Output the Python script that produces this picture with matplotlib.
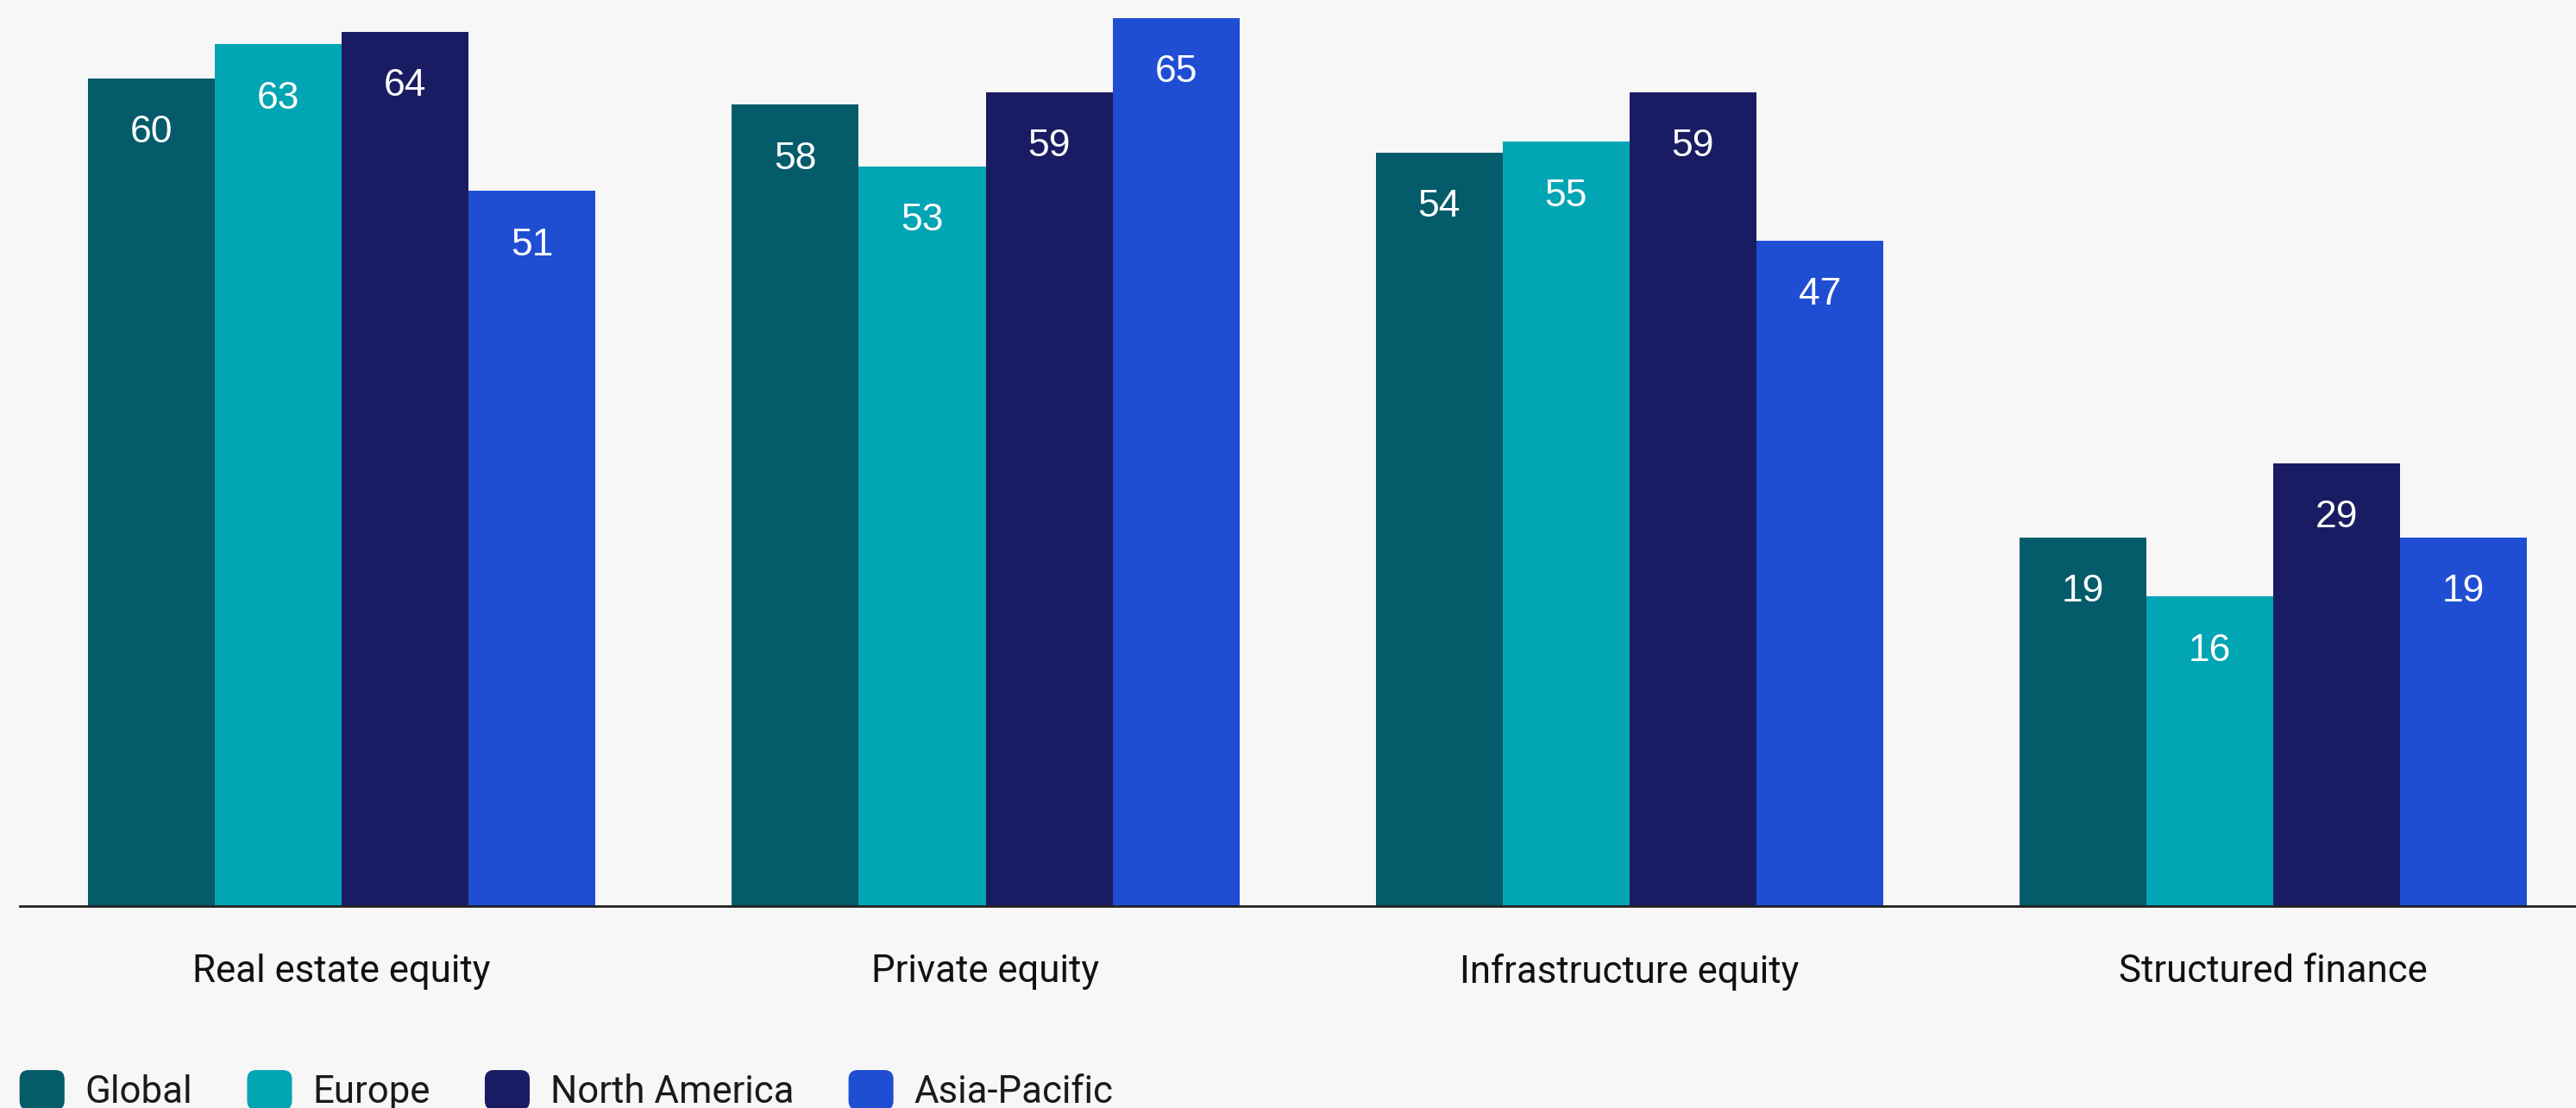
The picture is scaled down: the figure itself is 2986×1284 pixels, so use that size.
import matplotlib.pyplot as plt
import numpy as np
from matplotlib.patches import FancyBboxPatch, Patch
from matplotlib.legend_handler import HandlerPatch

# datos
categories = ['Real estate equity', 'Private equity', 'Infrastructure equity', 'Structured finance']
series = ['Global', 'Europe', 'North America', 'Asia-Pacific']
# valores mostrados en las etiquetas
labels = [
    [60, 63, 64, 51],
    [58, 53, 59, 65],
    [54, 55, 59, 47],
    [19, 16, 29, 19],
]
# altura de las barras tal como se ven en la imagen
heights = [
    [60.2, 62.7, 63.6, 52.0],
    [58.3, 53.8, 59.2, 64.6],
    [54.8, 55.6, 59.2, 48.4],
    [26.8, 22.5, 32.2, 26.8],
]
colors = ['#045b6a', '#02a5b4', '#1a1c63', '#1f4ed3']  # colores de la serie
bg = '#f7f7f7'


class RoundHandler(HandlerPatch):
    def create_artists(self, legend, orig_handle, xdescent, ydescent, width, height, fontsize, trans):
        p = FancyBboxPatch((-xdescent, -ydescent), width, height,
                           boxstyle='round,pad=0,rounding_size=%f' % (width * 0.2),
                           facecolor=orig_handle.get_facecolor(), edgecolor='none', transform=trans)
        return [p]


fig = plt.figure(figsize=(29.86, 12.84), dpi=100, facecolor=bg)
ax = fig.add_axes([0.0077, 1 - 551 / 674, 1 - 0.0077, 551 / 674])
ax.set_facecolor(bg)

x = np.arange(len(categories))
w = 0.197
for j, s in enumerate(series):
    h = [heights[i][j] for i in range(len(categories))]
    xs = x + (j - 1.5) * w
    ax.bar(xs, h, width=w, color=colors[j], edgecolor='none', zorder=2)
    for i in range(len(categories)):
        ax.annotate(str(labels[i][j]), (xs[i], h[i]), xytext=(0, -45.5), textcoords='offset points',
                    ha='center', va='center', color='white', fontsize=32,
                    family=['Liberation Sans', 'DejaVu Sans'])

ax.set_xlim(-0.5, 3.47)
ax.set_ylim(0, 65.9)
ax.set_yticks([])
ax.set_xticks(x)
ax.set_xticklabels(categories, fontsize=31.5, family=['Roboto', 'DejaVu Sans'], color='#111111')
ax.tick_params(axis='x', length=0, pad=40)
for sp in ['top', 'right', 'left']:
    ax.spines[sp].set_visible(False)
ax.spines['bottom'].set_color('#222222')
ax.spines['bottom'].set_linewidth(2)
ax.spines['bottom'].set_zorder(3)

handles = [Patch(facecolor=c, label=s) for c, s in zip(colors, series)]
fig.legend(handles=handles, loc='center left', bbox_to_anchor=(0.0076, 0.016), ncol=4, frameon=False,
           prop={'family': ['Roboto', 'DejaVu Sans'], 'size': 31.5},
           labelcolor='#1a1a1a',
           handler_map={Patch: RoundHandler()},
           handlelength=1.19, handleheight=1.25, handletextpad=0.55, columnspacing=1.44,
           borderaxespad=0, borderpad=0)

plt.savefig('out.png', dpi=100, facecolor=bg)
